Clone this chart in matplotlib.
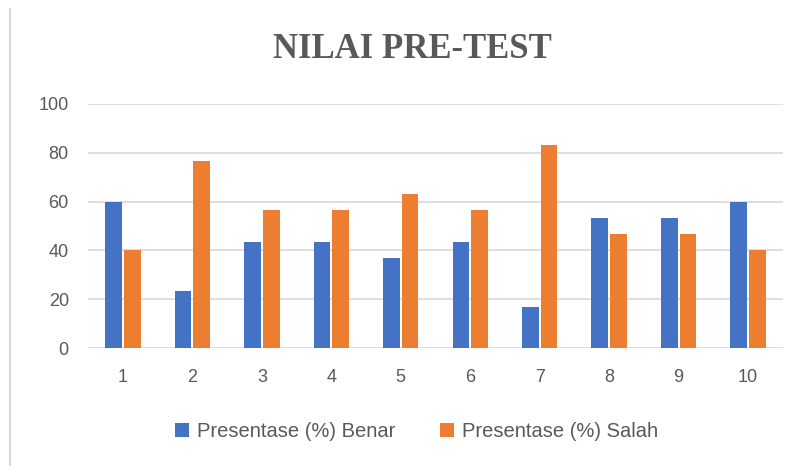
import numpy as np
import matplotlib.pyplot as plt
from matplotlib.lines import Line2D

# -------------------------------------------------
# Data
# -------------------------------------------------
soal = ["1", "2", "3", "4", "5", "6", "7", "8", "9", "10"]
benar = [60, 23.3, 43.3, 43.3, 36.7, 43.3, 16.7, 53.3, 53.3, 60]
salah = [40, 76.7, 56.7, 56.7, 63.3, 56.7, 83.3, 46.7, 46.7, 40]
y_ticks = [0, 20, 40, 60, 80, 100]

blue = "#4472C4"
orange = "#ED7D31"
grey_text = "#595959"

# -------------------------------------------------
# Figure
# -------------------------------------------------
fig = plt.figure(figsize=(8.02, 4.66), dpi=100)
ax = fig.add_axes([0.110, 0.253, 0.866, 0.524])

x = np.arange(len(soal))
w = 0.24
ax.bar(x - 0.135, benar, width=w, color=blue, label="Presentase (%) Benar", zorder=3)
ax.bar(x + 0.135, salah, width=w, color=orange, label="Presentase (%) Salah", zorder=3)

ax.set_xlim(-0.5, len(soal) - 0.5)
ax.set_ylim(0, 100)
ax.set_yticks(y_ticks)
ax.set_xticks(x)
ax.set_xticklabels(soal)

ax.grid(axis="y", color="#D9D9D9", linewidth=1.2, zorder=0)
for s in ax.spines.values():
    s.set_visible(False)
ax.tick_params(axis="both", length=0, colors=grey_text, labelsize=13)
ax.tick_params(axis="y", pad=14)
ax.tick_params(axis="x", pad=15)
for lab in ax.get_xticklabels() + ax.get_yticklabels():
    lab.set_fontfamily("Liberation Sans")

fig.text(0.514, 0.893, "NILAI PRE-TEST", ha="center", va="center",
         fontsize=25, fontweight="bold", family="Liberation Serif", color=grey_text)

leg = fig.legend(loc="center", bbox_to_anchor=(0.519, 0.073), ncol=2, frameon=False,
                 handlelength=0.7, handleheight=0.7, columnspacing=2.2, handletextpad=0.4,
                 prop={"family": "Liberation Sans", "size": 14.5})
for t in leg.get_texts():
    t.set_color(grey_text)

# light frame line at the left edge
fig.add_artist(Line2D([0.012, 0.012], [0.0, 0.98], color="#D9D9D9", linewidth=1.5,
                      transform=fig.transFigure))

fig.savefig("out.png", dpi=100)
